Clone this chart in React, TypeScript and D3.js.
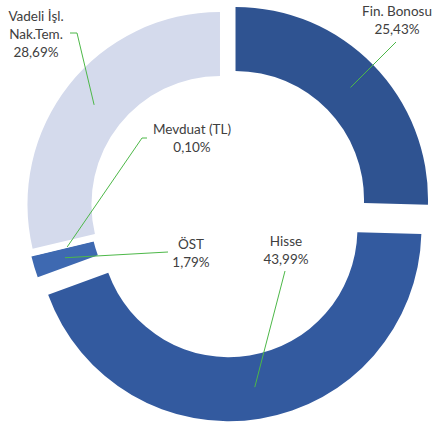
import React from "react";
import * as d3 from "d3";

const categories = ["Fin. Bonosu", "Hisse", "ÖST", "Mevduat (TL)", "Vadeli İşl. Nak.Tem."];
const values = [25.43, 43.99, 1.79, 0.1, 28.69];
const valueLabels = ["25,43%", "43,99%", "1,79%", "0,10%", "28,69%"];
const colors = ["#2F5391", "#335A9F", "#3E69B1", "#FFFFFF", "#D4DAEC"];
const explode = [13.7, 20, 7.5, 2.5, 7.3];

// label text lines, anchor, and leader start points
const labelLines = [
  ["Fin. Bonosu", "25,43%"],
  ["Hisse", "43,99%"],
  ["ÖST", "1,79%"],
  ["Mevduat (TL)", "0,10%"],
  ["Vadeli İşl.", "Nak.Tem.", "28,69%"],
];
const labelPos = [
  [397, 16],
  [286, 246],
  [191, 249],
  [192, 134],
  [36, 21],
];
const leaderStart: number[][][] = [
  [[396, 42]],
  [[285, 271]],
  [[168, 252]],
  [[147, 138], [142, 138]],
  [[70, 33], [77, 33]],
];

const W = 433;
const H = 426;
const CX = 225.7;
const CY = 209;
const R_OUT = 192.5;
const R_IN = 128.5;

export default function App() {
  const pie = d3
    .pie<number>()
    .sort(null)
    .startAngle(0)
    .endAngle(2 * Math.PI)
    .value((d) => d);
  const arcs = pie(values);
  const arc = d3.arc<d3.PieArcDatum<number>>().innerRadius(R_IN).outerRadius(R_OUT);

  const centers = arcs.map((a, i) => {
    const mid = (a.startAngle + a.endAngle) / 2;
    return [CX + explode[i] * Math.sin(mid), CY - explode[i] * Math.cos(mid)];
  });

  const lineGen = d3.line();
  const fs = 13.5;
  const lh = 18;

  return (
    <svg
      width={W}
      height={H}
      style={{ position: "absolute", left: 0, top: 0, background: "#fff" }}
      fontFamily="Lato, 'Open Sans', sans-serif"
    >
      {arcs.map((a, i) => (
        <path
          key={categories[i]}
          d={arc(a) || ""}
          fill={colors[i]}
          transform={`translate(${centers[i][0]},${centers[i][1]})`}
        />
      ))}
      {arcs.map((a, i) => {
        const c = arc.centroid(a);
        const end: [number, number] = [centers[i][0] + c[0], centers[i][1] + c[1]];
        const pts = [...leaderStart[i].map((p) => [p[0], p[1]] as [number, number]), end];
        return (
          <path key={"l" + i} d={lineGen(pts) || ""} stroke="#4DB848" strokeWidth={1} fill="none" />
        );
      })}
      {labelLines.map((lines, i) => (
        <text
          key={"t" + i}
          x={labelPos[i][0]}
          y={labelPos[i][1]}
          textAnchor="middle"
          fontSize={fs}
          fill="#404040"
        >
          {lines.map((ln, j) => (
            <tspan key={j} x={labelPos[i][0]} dy={j === 0 ? 0 : lh}>
              {ln}
            </tspan>
          ))}
        </text>
      ))}
    </svg>
  );
}
